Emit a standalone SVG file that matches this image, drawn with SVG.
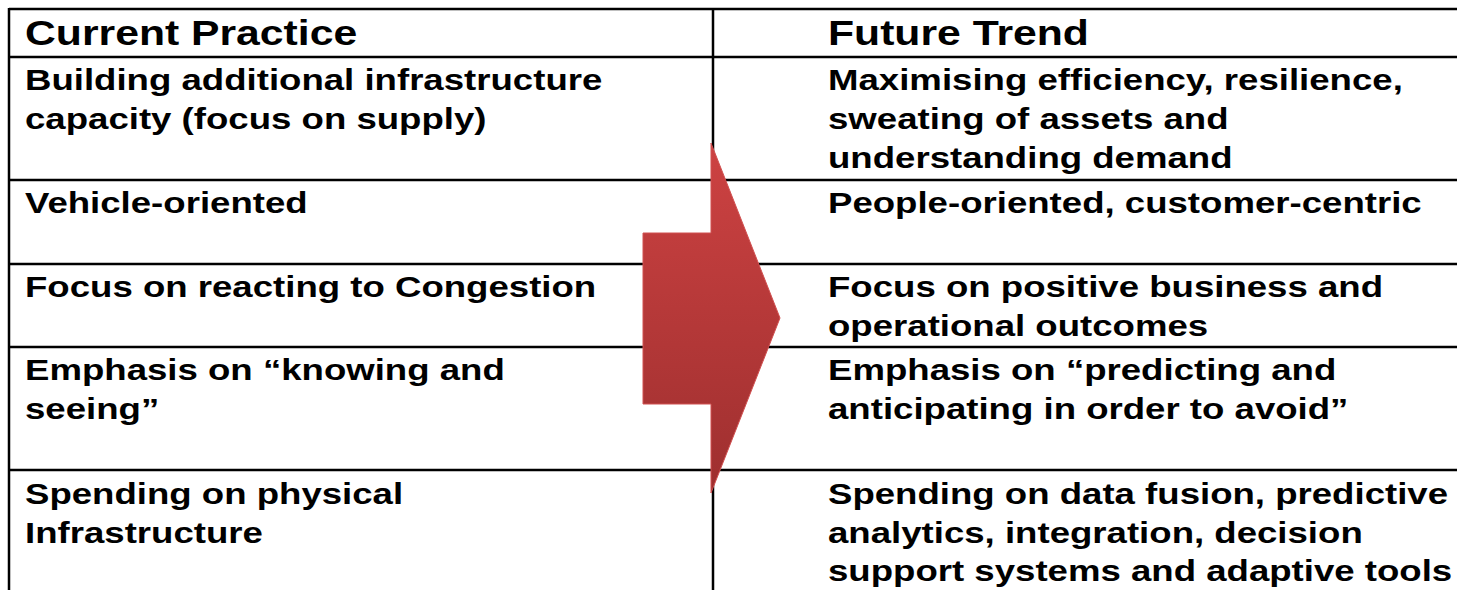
<svg xmlns="http://www.w3.org/2000/svg" width="1457" height="590" viewBox="0 0 1457 590">
<style>
text{font-family:'Liberation Sans',Arial,sans-serif;font-weight:700;font-size:30px;fill:#000}
.h{font-size:35px}
.g{stroke:#000;stroke-width:2.5;fill:none}
</style>
<defs>
<linearGradient id="ag" x1="0" y1="0" x2="0" y2="1">
<stop offset="0" stop-color="#cd4242"/>
<stop offset="1" stop-color="#9e2f2f"/>
</linearGradient>
</defs>
<rect width="1457" height="590" fill="#fff"/>
<g id="grid" class="g">
<line x1="9" y1="9" x2="1457" y2="9"/>
<line x1="9" y1="8" x2="9" y2="590"/>
<line x1="713" y1="9" x2="713" y2="590"/>
<line x1="9" y1="57" x2="1457" y2="57"/>
<line x1="9" y1="180" x2="1457" y2="180"/>
<line x1="9" y1="264" x2="1457" y2="264"/>
<line x1="9" y1="347" x2="1457" y2="347"/>
<line x1="9" y1="470" x2="1457" y2="470"/>
</g>
<g id="arrow">
<polygon points="643,233 711,233 711,143 780,318 711,493 711,404 643,404" fill="url(#ag)" stroke="#d05050" stroke-width="1"/>
</g>
<g id="header">
<text class="h" transform="translate(25 45) scale(1.22 1)">Current Practice</text>
<text class="h" transform="translate(828 45) scale(1.22 1)">Future Trend</text>
</g>
<g id="row1">
<text transform="translate(25 90) scale(1.22 1)">Building additional infrastructure</text>
<text transform="translate(25 129) scale(1.22 1)">capacity (focus on supply)</text>
<text transform="translate(828 90) scale(1.22 1)">Maximising efficiency, resilience,</text>
<text transform="translate(828 129) scale(1.22 1)">sweating of assets and</text>
<text transform="translate(828 168) scale(1.22 1)">understanding demand</text>
</g>
<g id="row2">
<text transform="translate(25 213) scale(1.22 1)">Vehicle-oriented</text>
<text transform="translate(828 213) scale(1.22 1)">People-oriented, customer-centric</text>
</g>
<g id="row3">
<text transform="translate(25 297) scale(1.22 1)">Focus on reacting to Congestion</text>
<text transform="translate(828 297) scale(1.22 1)">Focus on positive business and</text>
<text transform="translate(828 336) scale(1.22 1)">operational outcomes</text>
</g>
<g id="row4">
<text transform="translate(25 380) scale(1.22 1)">Emphasis on “knowing and</text>
<text transform="translate(25 419) scale(1.22 1)">seeing”</text>
<text transform="translate(828 380) scale(1.22 1)">Emphasis on “predicting and</text>
<text transform="translate(828 419) scale(1.22 1)">anticipating in order to avoid”</text>
</g>
<g id="row5">
<text transform="translate(25 504) scale(1.22 1)">Spending on physical</text>
<text transform="translate(25 543) scale(1.22 1)">Infrastructure</text>
<text transform="translate(828 504) scale(1.22 1)">Spending on data fusion, predictive</text>
<text transform="translate(828 543) scale(1.22 1)">analytics, integration, decision</text>
<text transform="translate(828 581) scale(1.22 1)">support systems and adaptive tools</text>
</g>
</svg>
